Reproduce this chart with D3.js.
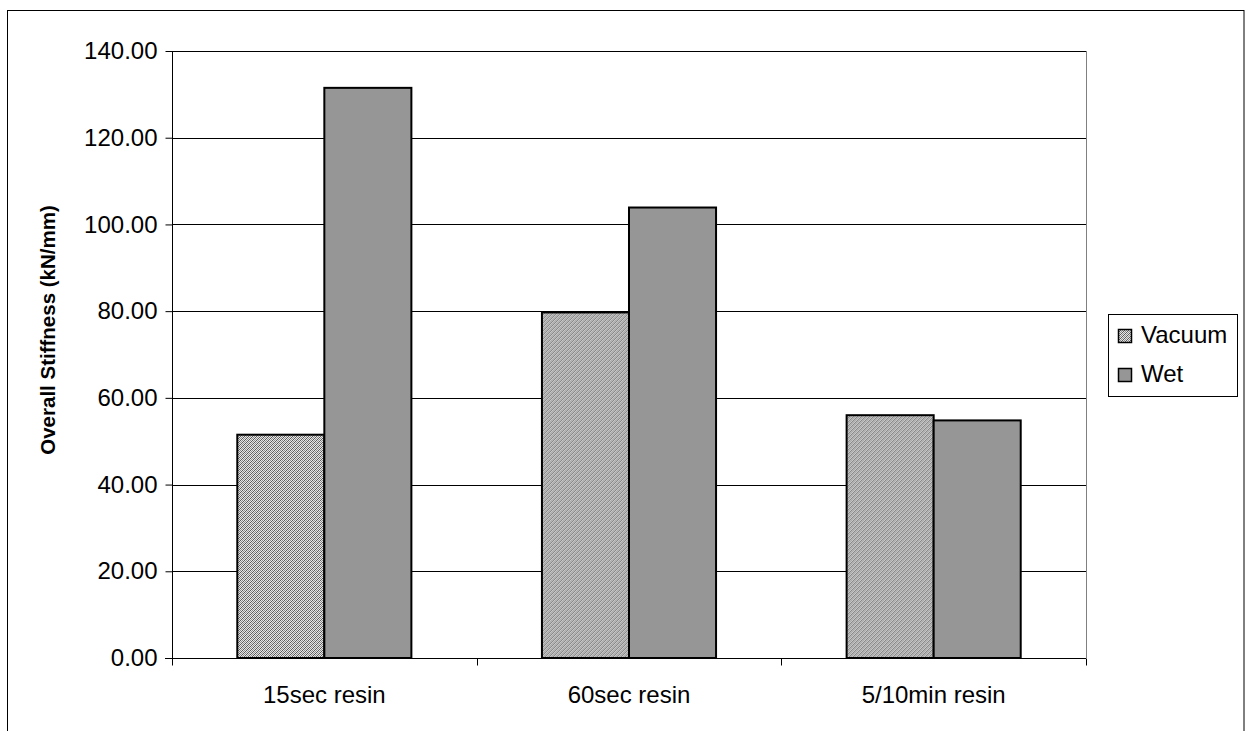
<!DOCTYPE html>
<html>
<head>
<meta charset="utf-8">
<script src="https://cdn.jsdelivr.net/npm/d3@7"></script>
<style>
  html, body { margin: 0; padding: 0; background: #fff; }
  svg { display: block; }
  text { font-family: "Liberation Sans", Arial, sans-serif; fill: #000; }
</style>
</head>
<body>
<svg id="chart" width="1246" height="731"></svg>
<script>
// Stiffness by resin cure time, vacuum vs wet layup
const categories = ["15sec resin", "60sec resin", "5/10min resin"];
const seriesNames = ["Vacuum", "Wet"];
const vacuumValues = [51.5, 79.7, 56.0];
const wetValues = [131.5, 103.9, 54.8];
const yTicks = [0, 20, 40, 60, 80, 100, 120, 140];

const svg = d3.select("#chart");

// Fine dotted/hatched fill for the vacuum series
const defs = svg.append("defs");
const pat = defs.append("pattern")
  .attr("id", "hatch")
  .attr("patternUnits", "userSpaceOnUse")
  .attr("width", 4).attr("height", 4);
pat.append("rect").attr("width", 4).attr("height", 4).attr("fill", "#e6e6e6");
[[0,0],[1,1],[2,2],[3,3],[2,0],[3,1],[0,2],[1,3]].forEach(([px, py]) => {
  pat.append("rect").attr("x", px).attr("y", py).attr("width", 1).attr("height", 1)
    .attr("fill", (px + py) % 4 === 0 ? "#5a5a5a" : "#8c8c8c");
});

// Outer chart frame
svg.append("rect")
  .attr("x", 7.5).attr("y", 10.5)
  .attr("width", 1236.5).attr("height", 760)
  .attr("fill", "none").attr("stroke", "#000").attr("stroke-width", 1);

const plot = { left: 172, top: 51, right: 1086, bottom: 658 };
const tickFont = "24px";

const x0 = d3.scaleBand().domain(categories)
  .range([plot.left, plot.right]).paddingInner(0).paddingOuter(0);
const x1 = d3.scaleBand().domain(seriesNames)
  .range([0, x0.bandwidth()]).paddingInner(0).paddingOuter(0.75);
const y = d3.scaleLinear().domain([0, 140]).range([plot.bottom, plot.top]);

// Plot area right edge
svg.append("line")
  .attr("x1", plot.right + 0.5).attr("x2", plot.right + 0.5)
  .attr("y1", plot.top).attr("y2", plot.bottom)
  .attr("stroke", "#808080").attr("stroke-width", 1);

// Horizontal gridlines
svg.append("g").selectAll("line").data(yTicks.filter(t => t > 0)).join("line")
  .attr("x1", plot.left).attr("x2", plot.right)
  .attr("y1", d => Math.round(y(d)) + 0.5).attr("y2", d => Math.round(y(d)) + 0.5)
  .attr("stroke", "#000").attr("stroke-width", 1);

// Bars
const groups = svg.append("g").selectAll("g").data(categories).join("g")
  .attr("transform", d => `translate(${x0(d)},0)`);
const fills = { Vacuum: "url(#hatch)", Wet: "#969696" };
groups.selectAll("rect")
  .data((d, i) => [
    { name: "Vacuum", v: vacuumValues[i] },
    { name: "Wet", v: wetValues[i] }
  ])
  .join("rect")
  .attr("x", d => x1(d.name))
  .attr("y", d => y(d.v))
  .attr("width", x1.bandwidth())
  .attr("height", d => plot.bottom - y(d.v))
  .attr("fill", d => fills[d.name])
  .attr("stroke", "#000").attr("stroke-width", 2);

// Y axis
const yAxis = d3.axisLeft(y).tickValues(yTicks).tickSize(7).tickPadding(8)
  .tickFormat(d => d.toFixed(2));
const gy = svg.append("g").attr("transform", `translate(${plot.left + 0.5},0)`).call(yAxis);
gy.select(".domain").attr("stroke", "#000").attr("d", `M0,${plot.top}V${plot.bottom + 7}`);
gy.selectAll(".tick line").attr("stroke", "#000");
gy.selectAll(".tick text")
  .style("font-family", "'Liberation Sans', Arial, sans-serif")
  .style("font-size", tickFont).attr("fill", "#000");

// X axis
const xAxis = d3.axisBottom(x0).tickSize(0).tickPadding(27);
const gx = svg.append("g").attr("transform", `translate(0,${plot.bottom + 0.5})`).call(xAxis);
gx.select(".domain").attr("stroke", "#000").attr("d", `M${plot.left - 7},0H${plot.right}`);
gx.selectAll(".tick text")
  .style("font-family", "'Liberation Sans', Arial, sans-serif")
  .style("font-size", tickFont).attr("fill", "#000");
// Category separator ticks
const bounds = categories.map(c => x0(c)).concat([plot.right]);
gx.append("g").selectAll("line").data(bounds).join("line")
  .attr("x1", d => Math.round(d) + 0.5).attr("x2", d => Math.round(d) + 0.5)
  .attr("y1", 0).attr("y2", 7)
  .attr("stroke", "#000");

// Y axis title
svg.append("text")
  .attr("transform", "translate(55,330) rotate(-90)")
  .attr("text-anchor", "middle")
  .style("font-size", "20.5px").style("font-weight", "bold")
  .text("Overall Stiffness (kN/mm)");

// Legend
const lg = svg.append("g").attr("transform", "translate(1108,314)");
lg.append("rect").attr("x", 0.5).attr("y", 0.5).attr("width", 129).attr("height", 82)
  .attr("fill", "#fff").attr("stroke", "#000").attr("stroke-width", 1);
seriesNames.forEach((name, i) => {
  const base = 29 + i * 39;
  lg.append("rect").attr("x", 10.5).attr("y", base - 13.5).attr("width", 13).attr("height", 13)
    .attr("fill", fills[name]).attr("stroke", "#000").attr("stroke-width", 1.5);
  lg.append("text").attr("x", 33).attr("y", base)
    .style("font-size", "24px").text(name);
});
</script>
</body>
</html>
